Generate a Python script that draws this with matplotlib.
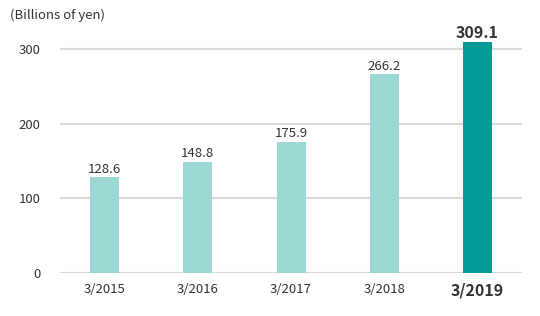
import matplotlib
matplotlib.use("Agg")
import matplotlib.pyplot as plt

plt.rcParams['font.family'] = ['Noto Sans CJK JP', 'DejaVu Sans']

# data
categories = ["3/2015", "3/2016", "3/2017", "3/2018", "3/2019"]
values = [128.6, 148.8, 175.9, 266.2, 309.1]
yticks = [0, 100, 200, 300]

light = "#9bd8d4"
dark = "#009b94"
colors = [light] * (len(values) - 1) + [dark]

fig = plt.figure(figsize=(5.4, 3.16), dpi=100)
ax = fig.add_axes([0.111, 0.136, 0.856, 0.756])

x = list(range(len(categories)))
ax.bar(x, values, width=0.31, color=colors, zorder=3)

for i, v in enumerate(values):
    last = i == len(values) - 1
    ax.text(i, v + 2, "%.1f" % v, ha="center", va="bottom",
            fontsize=11.5 if last else 9.5,
            fontweight="bold" if last else "normal", color="#333333")

ax.set_xlim(-0.48, 4.48)
ax.set_ylim(0, 320)
ax.set_yticks(yticks)
ax.set_xticks(x)
ax.set_xticklabels(categories)
for i, lbl in enumerate(ax.get_xticklabels()):
    if i == len(categories) - 1:
        lbl.set_fontweight("bold")
        lbl.set_fontsize(11.5)
    else:
        lbl.set_fontsize(9.5)
ax.tick_params(axis="y", labelsize=9.5, length=0, pad=14, colors="#333333")
ax.tick_params(axis="x", length=0, pad=7, colors="#333333")

ax.grid(axis="y", color="#d9d9d9", linewidth=1.5, zorder=0)
for s in ax.spines.values():
    s.set_visible(False)

fig.text(10 / 540, 1 - 15 / 316, "(Billions of yen)", ha="left", va="center",
         fontsize=9.5, color="#333333")

fig.savefig("out.png", dpi=100)
